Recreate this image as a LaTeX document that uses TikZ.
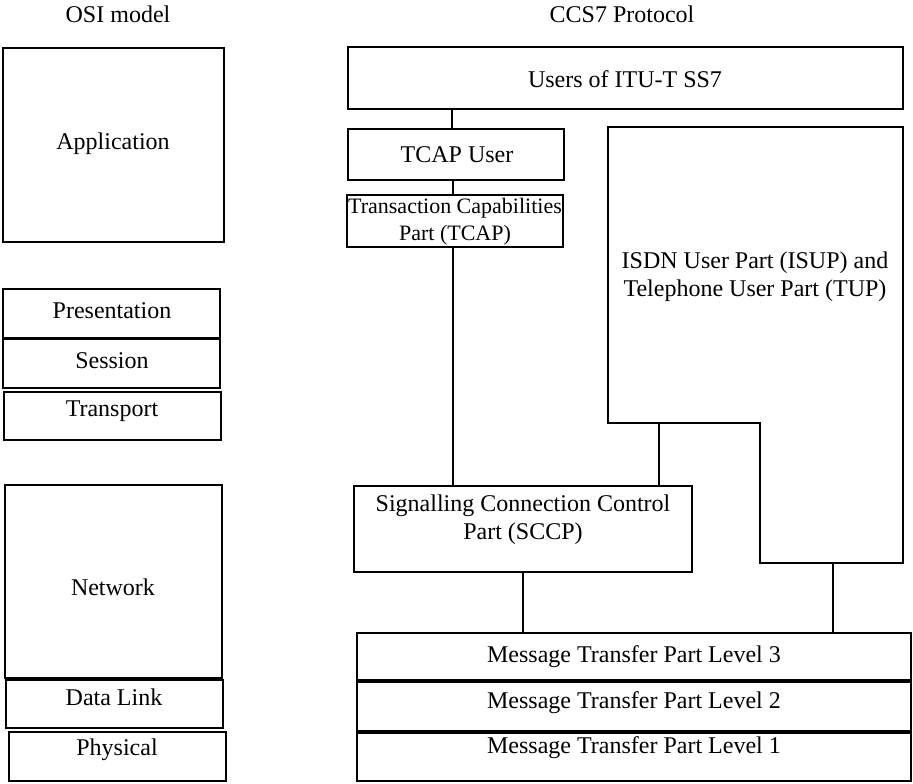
\documentclass[tikz,border=0pt]{standalone}
\usepackage{fontspec}
\setmainfont{Liberation Serif}
\usetikzlibrary{fit}
\begin{document}
\begin{tikzpicture}[x=1pt,y=-1pt,
  layer/.style={draw, line width=2.4pt, rectangle, inner sep=0pt, outer sep=0pt},
  wire/.style={draw, line width=2pt},
  txt/.style={font=\fontsize{24}{28}\selectfont, inner sep=0pt, align=center},
  smalltxt/.style={font=\fontsize{22}{27}\selectfont, inner sep=0pt, align=center}]
\useasboundingbox (0,0) rectangle (913,784);

% column headings
\node[txt] (osititle) at (118,14) {OSI model};
\node[txt] (ccstitle) at (622,14) {CCS7 Protocol};

% OSI reference model layers
\node[layer, fit={(3,48) (224,242)}] (app) {};
\node[layer, fit={(3,289) (220,338)}] (pres) {};
\node[layer, fit={(3,339) (220,388)}] (sess) {};
\node[layer, fit={(4,392) (221,440)}] (trans) {};
\node[layer, fit={(5,485) (222,678)}] (net) {};
\node[layer, fit={(6,680) (223,728)}] (dlink) {};
\node[layer, fit={(9,732) (226,781)}] (phys) {};

\node[txt] (appt) at (113,144) {Application};
\node[txt] (prest) at (112,311) {Presentation};
\node[txt] (sesst) at (112,361) {Session};
\node[txt] (transt) at (112,411) {Transport};
\node[txt] (nett) at (113,587) {Network};
\node[txt] (dlinkt) at (114,697) {Data Link};
\node[txt] (physt) at (117,750) {Physical};

% CCS7 protocol stack
\node[layer, fit={(348,47) (903,109)}] (users) {};
\node[txt] (userst) at (625,79) {Users of ITU-T SS7};

\node[layer, fit={(348,129) (564,180)}] (tcapu) {};
\node[txt] (tcaput) at (457,155) {TCAP User};

\node[layer, fit={(347,195) (563,247)}] (tcap) {};
\node[smalltxt] (tcapt) at (455,222) {Transaction Capabilities\\Part (TCAP)};

% ISUP / TUP block with its stepped lower edge
\draw[line width=2.4pt] (608,127) -- (903,127) -- (903,563) -- (760,563)
  -- (760,423) -- (608,423) -- cycle;
\coordinate (isupleft) at (659,423);
\coordinate (isupright) at (833,563);
\node[txt] (isupt) at (755,277) {ISDN User Part (ISUP) and\\Telephone User Part (TUP)};

\node[layer, fit={(354,486) (692,572)}] (sccp) {};
\node[txt] (sccpt) at (523,520) {Signalling Connection Control\\Part (SCCP)};

\node[layer, fit={(357,633) (911,680)}] (mtp3) {};
\node[layer, fit={(357,682) (911,731)}] (mtp2) {};
\node[layer, fit={(357,733) (911,781)}] (mtp1) {};
\node[txt] (mtp3t) at (634,657) {Message Transfer Part Level 3};
\node[txt] (mtp2t) at (634,703) {Message Transfer Part Level 2};
\node[txt] (mtp1t) at (634,748) {Message Transfer Part Level 1};

% connections between the CCS7 parts
\draw[wire] ([xshift=-4pt]tcapu.north) -- ([xshift=-4pt]tcapu.north |- users.south);
\draw[wire] ([xshift=-3pt]tcapu.south) -- ([xshift=-3pt]tcapu.south |- tcap.north);
\draw[wire] ([xshift=-2pt]tcap.south) -- ([xshift=-2pt]tcap.south |- sccp.north);
\draw[wire] (isupleft) -- (isupleft |- sccp.north);
\draw[wire] (sccp.south) -- (sccp.south |- mtp3.north);
\draw[wire] (isupright) -- (isupright |- mtp3.north);
\end{tikzpicture}
\end{document}
